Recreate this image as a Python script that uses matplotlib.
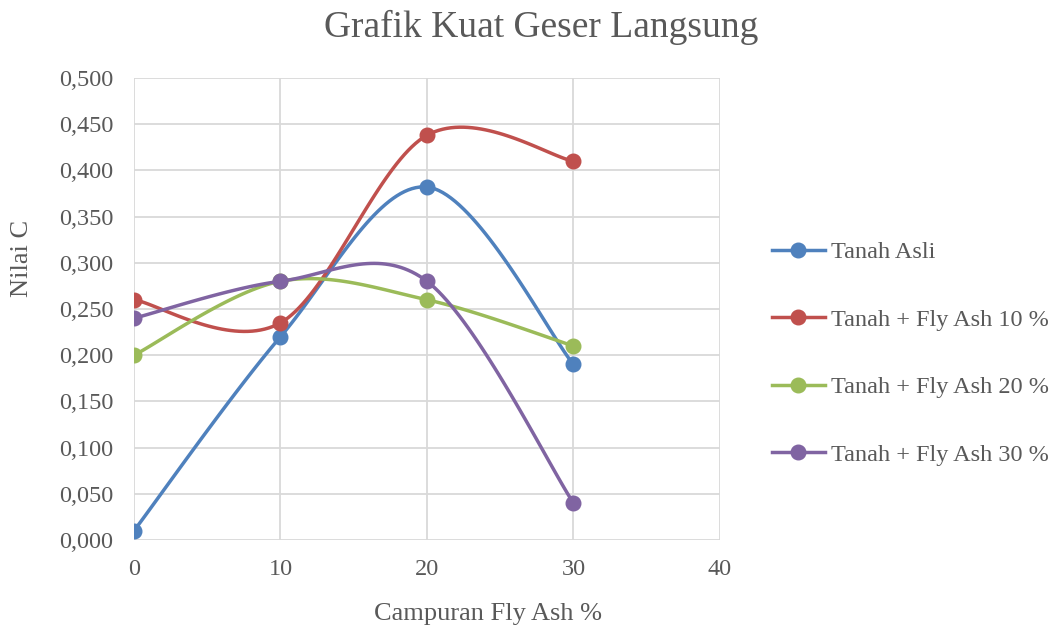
import numpy as np
import matplotlib
matplotlib.use("Agg")
from matplotlib import pyplot as plt
from matplotlib.ticker import FuncFormatter

# data
campuran = [0, 10, 20, 30]
tanah_asli = [0.010, 0.220, 0.382, 0.190]
fly_ash_10 = [0.260, 0.235, 0.438, 0.410]
fly_ash_20 = [0.200, 0.280, 0.260, 0.210]
fly_ash_30 = [0.240, 0.280, 0.280, 0.040]
labels = ["Tanah Asli", "Tanah + Fly Ash 10 %", "Tanah + Fly Ash 20 %", "Tanah + Fly Ash 30 %"]
colors = ["#4F81BD", "#C0504D", "#9BBB59", "#8064A2"]

plt.rcParams['font.family'] = ['Liberation Serif', 'DejaVu Serif']
grey = "#595959"


def smooth(x, y, n=40):
    # catmull-rom like smoothing (as in excel smoothed lines)
    p = np.column_stack([x, y]).astype(float)
    pts = np.vstack([p[0], p, p[-1]])
    out = []
    t = np.linspace(0, 1, n)
    for i in range(1, len(pts) - 2):
        p0, p1, p2, p3 = pts[i - 1], pts[i], pts[i + 1], pts[i + 2]
        c1 = p1 + (p2 - p0) / 6
        c2 = p2 - (p3 - p1) / 6
        seg = ((1 - t) ** 3)[:, None] * p1 + (3 * (1 - t) ** 2 * t)[:, None] * c1 \
            + (3 * (1 - t) * t ** 2)[:, None] * c2 + (t ** 3)[:, None] * p2
        out.append(seg if i == 1 else seg[1:])
    s = np.vstack(out)
    return s[:, 0], s[:, 1]


fig = plt.figure(figsize=(10.51, 6.3), dpi=100)
ax = fig.add_axes([0.1275, 0.1429, 0.5575, 0.7333])

for vals, lab, col in zip([tanah_asli, fly_ash_10, fly_ash_20, fly_ash_30], labels, colors):
    sx, sy = smooth(campuran, vals)
    ax.plot(sx, sy, color=col, lw=2.5, solid_capstyle='round')
    ax.plot(campuran, vals, 'o', color=col, ms=10.5)
    ax.plot([], [], '-o', color=col, lw=2.5, ms=10.5, label=lab)

ax.set_xlim(0, 40)
ax.set_ylim(0, 0.5)
ax.set_xticks([0, 10, 20, 30, 40])
ax.set_yticks(np.arange(0, 0.501, 0.05))
ax.yaxis.set_major_formatter(FuncFormatter(lambda v, p: ("%.3f" % v).replace(".", ",")))
ax.grid(True, color="#D9D9D9", lw=1.3)
ax.set_axisbelow(True)
for s in ax.spines.values():
    s.set_visible(False)
ax.tick_params(length=0, labelsize=17.5, colors=grey)
ax.tick_params(axis='y', pad=15)
ax.tick_params(axis='x', pad=14)

fig.text(0.515, 0.957, "Grafik Kuat Geser Langsung", ha='center', va='center', fontsize=27, color=grey)
fig.text(0.021, 0.59, "Nilai C", rotation=90, ha='center', va='center', fontsize=19, color=grey)
fig.text(0.464, 0.026, "Campuran Fly Ash %", ha='center', va='center', fontsize=19, color=grey)

fig.legend(loc='center left', bbox_to_anchor=(0.714, 0.439), frameon=False, fontsize=17.5,
           labelcolor=grey, handlelength=2.15, handletextpad=0.25, labelspacing=1.87)

fig.savefig("out.png", dpi=100)
